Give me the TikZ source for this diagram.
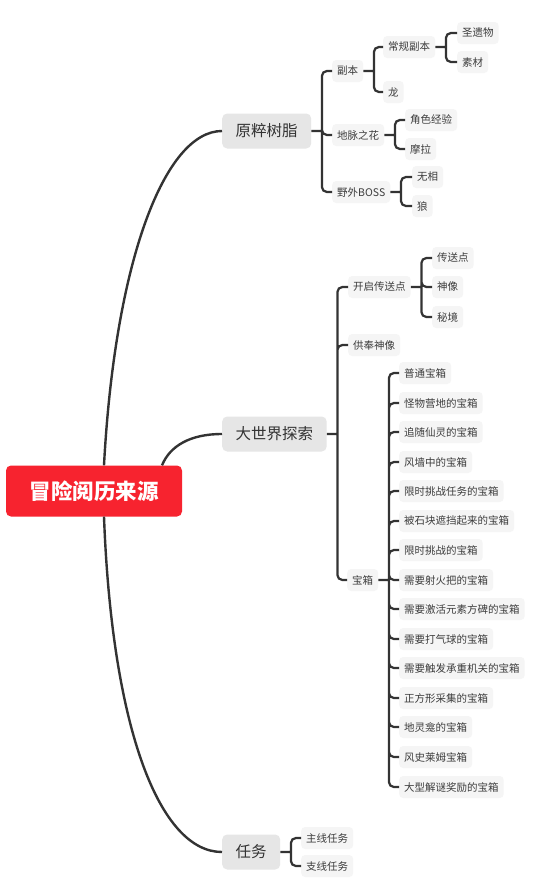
\documentclass[tikz,border=0pt]{standalone}
\usepackage{fontspec}
\newfontfamily\cjk{Noto Sans CJK SC}
\definecolor{rootred}{HTML}{F7232F}
\definecolor{topicbg}{HTML}{E6E6E6}
\definecolor{topictext}{HTML}{333333}
\definecolor{leafbg}{HTML}{F5F5F5}
\definecolor{leaftext}{HTML}{3C3C3C}
\definecolor{linkline}{HTML}{333333}
\tikzset{
  centraltopic/.style={fill=rootred, rounded corners=5pt, text=white,
               font=\cjk\bfseries\fontsize{21.5}{24}\selectfont,
               minimum width=176pt, minimum height=51pt, inner sep=0pt},
  topic/.style={fill=topicbg, rounded corners=5pt, text=topictext,
               font=\cjk\fontsize{15.5}{18}\selectfont,
               inner xsep=13.5pt, inner ysep=0pt, minimum height=35pt, anchor=west},
  leaf/.style={fill=leafbg, rounded corners=4pt, text=leaftext,
               font=\cjk\fontsize{10.5}{12}\selectfont,
               inner xsep=5pt, inner ysep=0pt, minimum height=22pt, anchor=west},
  curvelink/.style={draw=linkline, line width=2.4pt},
  branch/.style={draw=linkline, line width=2.2pt, rounded corners=5pt},
}
\begin{document}
\begin{tikzpicture}[x=1pt, y=-1pt]
    \useasboundingbox[fill=white] (0,0) rectangle (542,881);

    \node[centraltopic] (root) at (94, 491) {冒险阅历来源};

    \node[topic] (yc)  at (222, 131) {原粹树脂};
    \node[topic] (dsj) at (222, 434) {大世界探索};
    \node[topic] (rw)  at (222, 852) {任务};

    \node[leaf] (fb) at (332, 71)  {副本};
    \node[leaf] (dm) at (332, 135) {地脉之花};
    \node[leaf] (yw) at (332, 192) {野外BOSS};
    \node[leaf] (cg) at (383, 47)  {常规副本};
    \node[leaf] (long) at (383, 92) {龙};
    \node[leaf] (syw) at (457, 33) {圣遗物};
    \node[leaf] (sc) at (457, 62)  {素材};
    \node[leaf] (jsjy) at (405, 120) {角色经验};
    \node[leaf] (ml) at (405, 149) {摩拉};
    \node[leaf] (wx) at (412, 177) {无相};
    \node[leaf] (lang) at (412, 206) {狼};

    \node[leaf] (kq) at (348, 287) {开启传送点};
    \node[leaf] (gf) at (348, 345) {供奉神像};
    \node[leaf] (bx) at (347, 580) {宝箱};
    \node[leaf] (csd) at (432, 258) {传送点};
    \node[leaf] (sx) at (432, 287) {神像};
    \node[leaf] (mj) at (432, 317) {秘境};

    \node[leaf] (bx1)  at (399, 373) {普通宝箱};
    \node[leaf] (bx2)  at (399, 403) {怪物营地的宝箱};
    \node[leaf] (bx3)  at (399, 432) {追随仙灵的宝箱};
    \node[leaf] (bx4)  at (399, 462) {风墙中的宝箱};
    \node[leaf] (bx5)  at (399, 491) {限时挑战任务的宝箱};
    \node[leaf] (bx6)  at (399, 521) {被石块遮挡起来的宝箱};
    \node[leaf] (bx7)  at (399, 550) {限时挑战的宝箱};
    \node[leaf] (bx8)  at (399, 580) {需要射火把的宝箱};
    \node[leaf] (bx9)  at (399, 609) {需要激活元素方碑的宝箱};
    \node[leaf] (bx10) at (399, 639) {需要打气球的宝箱};
    \node[leaf] (bx11) at (399, 668) {需要触发承重机关的宝箱};
    \node[leaf] (bx12) at (399, 698) {正方形采集的宝箱};
    \node[leaf] (bx13) at (399, 727) {地灵龛的宝箱};
    \node[leaf] (bx14) at (399, 757) {风史莱姆宝箱};
    \node[leaf] (bx15) at (399, 787) {大型解谜奖励的宝箱};

    \node[leaf] (zx) at (301, 838) {主线任务};
    \node[leaf] (zhx) at (301, 866) {支线任务};

    \draw[curvelink] ([xshift=10pt]root.north) .. controls (115, 260) and (165, 131) .. (yc.west);
    \draw[curvelink] ([xshift=68pt]root.north) .. controls (170, 446) and (190, 434) .. (dsj.west);
    \draw[curvelink] ([xshift=10pt]root.south) .. controls (112, 730) and (160, 852) .. (rw.west);

    \coordinate (j-yc) at ([xshift=10.5pt]yc.east);
    \coordinate (j-fb) at ([xshift=10.5pt]fb.east);
    \coordinate (j-cg) at ([xshift=10.5pt]cg.east);
    \coordinate (j-dm) at ([xshift=10.5pt]dm.east);
    \coordinate (j-yw) at ([xshift=10.5pt]yw.east);
    \coordinate (j-dsj) at ([xshift=10.5pt]dsj.east);
    \coordinate (j-kq) at ([xshift=10.5pt]kq.east);
    \coordinate (j-bx) at ([xshift=10.5pt]bx.east);
    \coordinate (j-rw) at ([xshift=10.5pt]rw.east);

    \draw[branch] (yc.east) -- (j-yc) (j-yc) |- (fb.west) (j-yc) |- (dm.west) (j-yc) |- (yw.west);
    \draw[branch] (fb.east) -- (j-fb) (j-fb) |- (cg.west) (j-fb) |- (long.west);
    \draw[branch] (cg.east) -- (j-cg) (j-cg) |- (syw.west) (j-cg) |- (sc.west);
    \draw[branch] (dm.east) -- (j-dm) (j-dm) |- (jsjy.west) (j-dm) |- (ml.west);
    \draw[branch] (yw.east) -- (j-yw) (j-yw) |- (wx.west) (j-yw) |- (lang.west);

    \draw[branch] (dsj.east) -- (j-dsj) (j-dsj) |- (kq.west) (j-dsj) |- (gf.west) (j-dsj) |- (bx.west);
    \draw[branch] (kq.east) -- (j-kq) (j-kq) |- (csd.west) (j-kq) |- (sx.west) (j-kq) |- (mj.west);
    \draw[branch] (bx.east) -- (j-bx)
      (j-bx) |- (bx1.west) (j-bx) |- (bx2.west) (j-bx) |- (bx3.west)
      (j-bx) |- (bx4.west) (j-bx) |- (bx5.west) (j-bx) |- (bx6.west)
      (j-bx) |- (bx7.west) (j-bx) |- (bx8.west) (j-bx) |- (bx9.west)
      (j-bx) |- (bx10.west) (j-bx) |- (bx11.west) (j-bx) |- (bx12.west)
      (j-bx) |- (bx13.west) (j-bx) |- (bx14.west) (j-bx) |- (bx15.west);

    \draw[branch] (rw.east) -- (j-rw) (j-rw) |- (zx.west) (j-rw) |- (zhx.west);
  \end{tikzpicture}
\end{document}
